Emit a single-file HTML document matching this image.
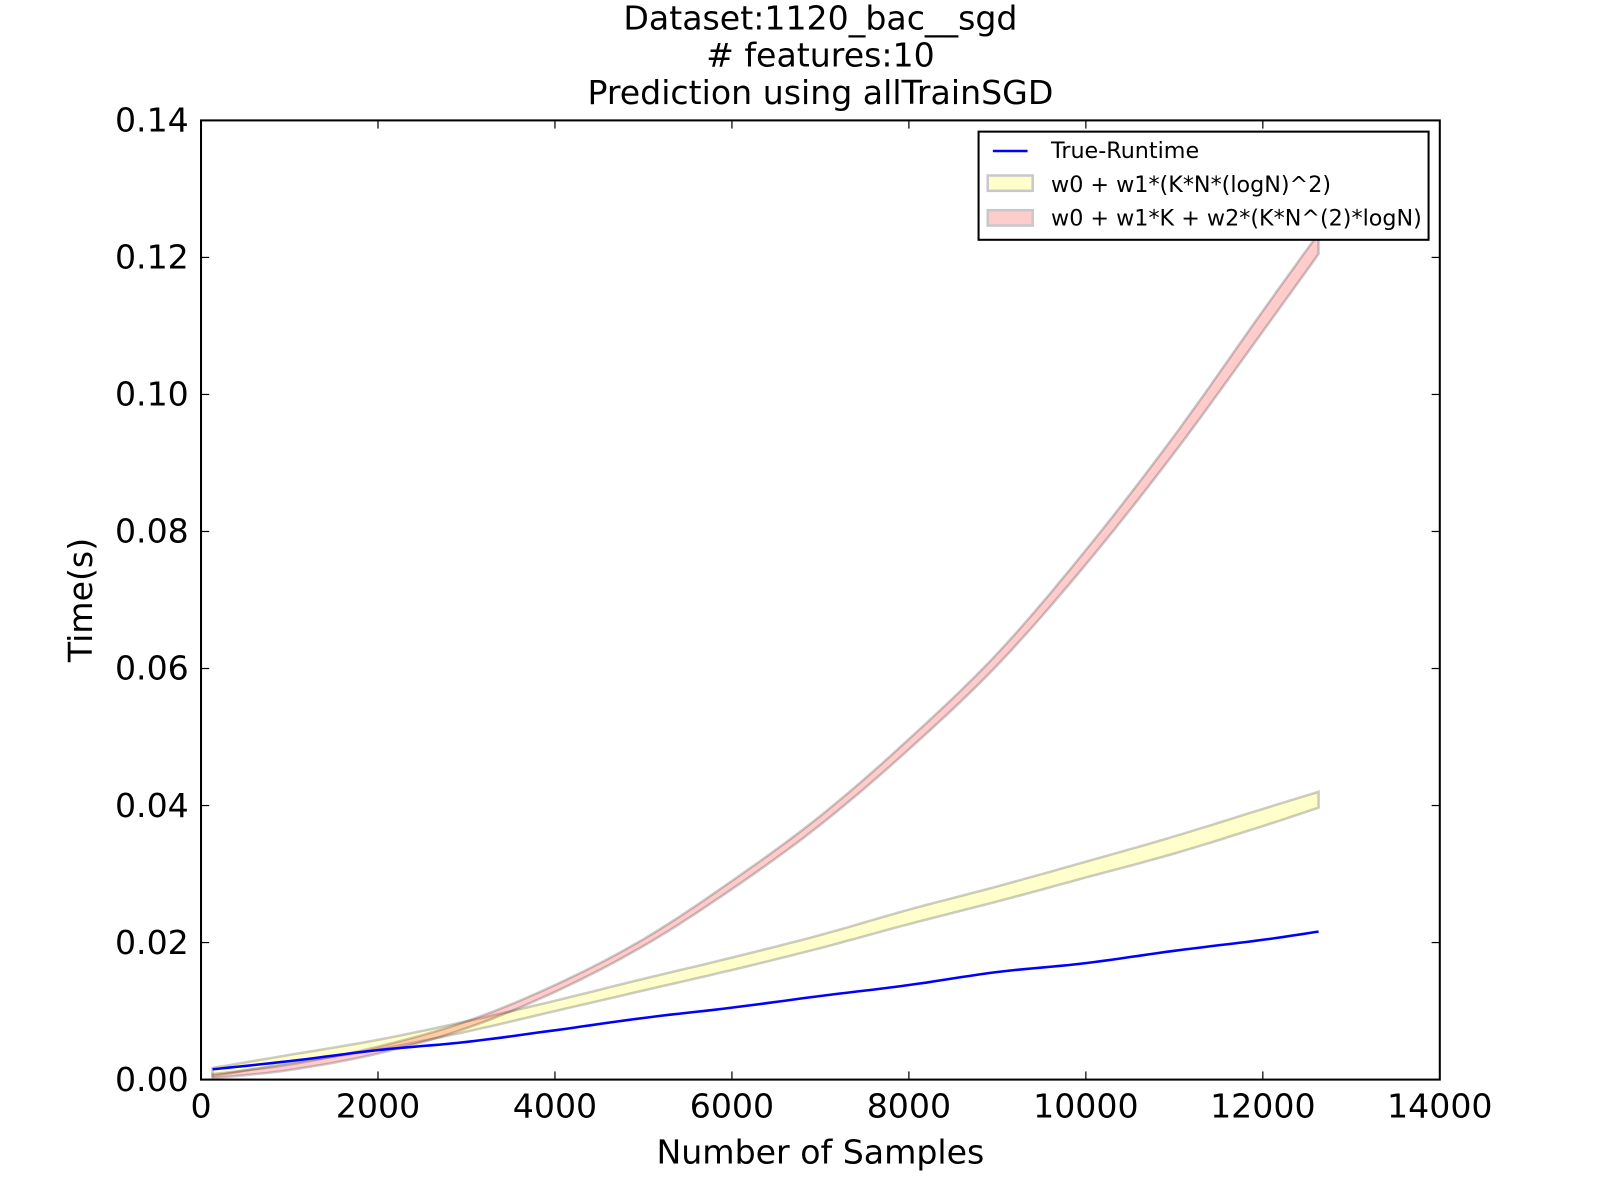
<!DOCTYPE html>
<html><head><meta charset="utf-8"><style>
body{margin:0;background:#fff;overflow:hidden;}
svg{display:block;font-family:"DejaVu Sans","Liberation Sans",sans-serif;}
</style></head><body>
<svg id="chart" width="1600" height="1200" viewBox="0 0 1568 1176">
<g id="marks"></g>
<g font-family="DejaVu Sans, Liberation Sans, sans-serif" font-size="32.5" text-anchor="middle">
<text x="804" y="29">Dataset:1120_bac__sgd</text>
<text x="804" y="65"># features:10</text>
<text x="804" y="102">Prediction using allTrainSGD</text>
<text x="804" y="1140">Number of Samples</text>
<text x="90" y="588" transform="rotate(-90 90 588)">Time(s)</text>
</g>
<g font-family="DejaVu Sans, Liberation Sans, sans-serif" font-size="21.8">
<rect x="959" y="129" width="441" height="106" fill="#fff" stroke="#000" stroke-width="2"/>
<line x1="973" y1="148" x2="1007" y2="148" stroke="#0000ff" stroke-width="2.5"/>
<text x="1030" y="155">True-Runtime</text>
<rect x="968" y="172" width="44" height="15" fill="#ffffcc" stroke="#c8c8c8" stroke-width="2.5"/>
<text x="1030" y="188">w0 + w1*(K*N*(logN)^2)</text>
<rect x="968" y="206" width="44" height="15" fill="#ffcccc" stroke="#c8c8c8" stroke-width="2.5"/>
<text x="1030" y="221">w0 + w1*K + w2*(K*N^(2)*logN)</text>
</g>
</svg>
<script>
const xs=[130,1000,2000,3000,4000,5000,6000,7000,8000,9000,10000,11000,12000,12630];
const blueVals=[0.0015,0.0027,0.0043,0.0055,0.0072,0.0090,0.0105,0.0122,0.0138,0.0157,0.0170,0.0188,0.0204,0.0216];
const yellowLow=[0.0005,0.0024,0.0044,0.0070,0.0100,0.0130,0.0160,0.0192,0.0227,0.0260,0.0295,0.0330,0.0370,0.0397];
const yellowHigh=[0.0017,0.0036,0.0058,0.0085,0.0115,0.0147,0.0178,0.0211,0.0248,0.0282,0.0318,0.0355,0.0395,0.0420];
const redLow=[0.0002,0.0014,0.0038,0.0075,0.0128,0.0195,0.0278,0.0372,0.0482,0.0605,0.0752,0.0915,0.1092,0.1205];
const redHigh=[0.0008,0.0022,0.0048,0.0085,0.0138,0.0205,0.0290,0.0385,0.0497,0.0622,0.0773,0.0940,0.1122,0.1235];
const xTicks=[0,2000,4000,6000,8000,10000,12000,14000];
const yTicks=[0,0.02,0.04,0.06,0.08,0.10,0.12,0.14];
const L=197,R=1411,T=118,B=1058;
const sx=v=>L+(v/14000)*(R-L);
const sy=v=>B-(v/0.14)*(B-T);
const g=document.getElementById('marks');
const NS='http://www.w3.org/2000/svg';
function mk(tag,attrs){const e=document.createElementNS(NS,tag);for(const k in attrs)e.setAttribute(k,attrs[k]);g.appendChild(e);return e;}
function smooth(vals){
  const pts=[];
  for(let i=0;i<xs.length-1;i++){
    const x0=xs[Math.max(i-1,0)],x1=xs[i],x2=xs[i+1],x3=xs[Math.min(i+2,xs.length-1)];
    const y0=vals[Math.max(i-1,0)],y1=vals[i],y2=vals[i+1],y3=vals[Math.min(i+2,xs.length-1)];
    for(let s=0;s<10;s++){
      const t=s/10,t2=t*t,t3=t2*t;
      const f=(a,b,c,d)=>0.5*((2*b)+(-a+c)*t+(2*a-5*b+4*c-d)*t2+(-a+3*b-3*c+d)*t3);
      pts.push([sx(f(x0,x1,x2,x3)),sy(f(y0,y1,y2,y3))]);
    }
  }
  pts.push([sx(xs[xs.length-1]),sy(vals[vals.length-1])]);
  return pts;
}
function band(lo,hi,fill,name){
  const up=smooth(hi),dn=smooth(lo).reverse();
  const d='M'+up.concat(dn).map(p=>p[0].toFixed(1)+','+p[1].toFixed(1)).join('L')+'Z';
  const p=mk('path',{d:d,fill:fill,'fill-opacity':0.2,stroke:'#000','stroke-opacity':0.2,'stroke-width':2.5});
  
  
}
band(yellowLow,yellowHigh,'#ffff00','yellow-band');
band(redLow,redHigh,'#ff0000','red-band');
const bl=mk('polyline',{points:smooth(blueVals).map(p=>p[0].toFixed(1)+','+p[1].toFixed(1)).join(' '),fill:'none',stroke:'#0000ff','stroke-width':2.5});


const frame=mk('rect',{x:L,y:T,width:R-L,height:B-T,fill:'none',stroke:'#000','stroke-width':2});


xTicks.forEach(t=>{
  const x=sx(t);
  mk('line',{x1:x,y1:B,x2:x,y2:B-8,stroke:'#000','stroke-width':1.2});
  mk('line',{x1:x,y1:T,x2:x,y2:T+8,stroke:'#000','stroke-width':1.2});
  const tx=mk('text',{x:x,y:B+37,'text-anchor':'middle','font-size':32.5});
  tx.textContent=t;
  
  
});
yTicks.forEach(t=>{
  const y=sy(t);
  mk('line',{x1:L,y1:y,x2:L+8,y2:y,stroke:'#000','stroke-width':1.2});
  mk('line',{x1:R,y1:y,x2:R-8,y2:y,stroke:'#000','stroke-width':1.2});
  const tx=mk('text',{x:L-12,y:y+11,'text-anchor':'end','font-size':32.5});
  tx.textContent=t.toFixed(2);
  
  
});
</script>
</body></html>
